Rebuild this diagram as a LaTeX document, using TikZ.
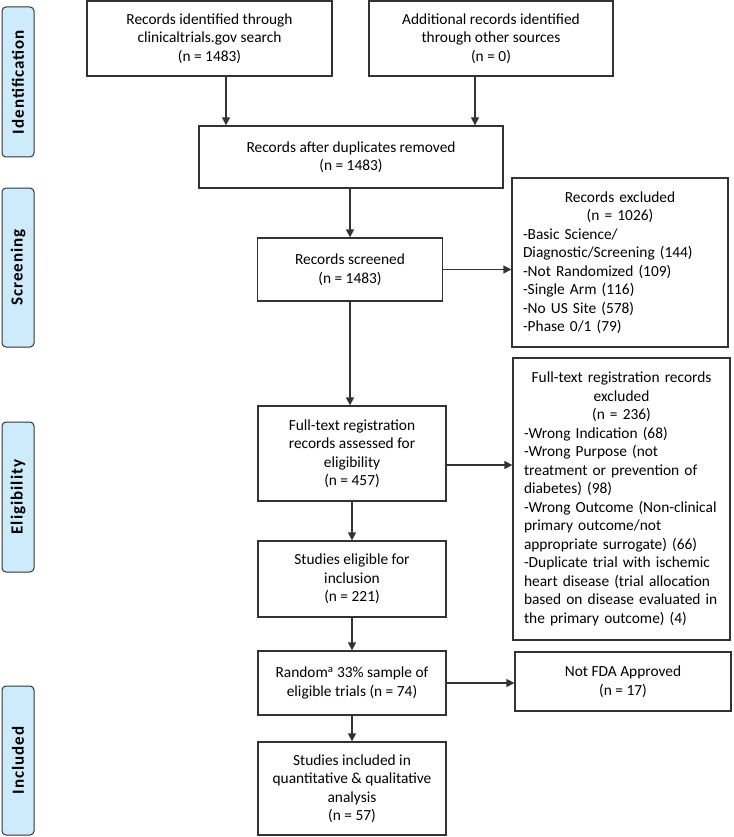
\documentclass[tikz,border=0pt]{standalone}
\usepackage{fontspec}
\setmainfont{Carlito}
\newfontfamily\phasefont[LetterSpace=6]{Carlito}
\usetikzlibrary{arrows.meta,calc}
\definecolor{lineC}{HTML}{333333}
\definecolor{phaseC}{HTML}{CDEBFA}
\begin{document}
\begin{tikzpicture}[x=1pt,y=-1pt,
  txt/.style={font=\fontsize{15.4pt}{18.5pt}\selectfont},
  box/.style={draw=lineC, line width=1.3pt, rectangle, inner sep=0pt, align=center, txt},
  phase/.style={draw=lineC, line width=1pt, fill=phaseC, rounded corners=4pt, rotate=90,
    minimum height=32pt, inner sep=0pt, font=\phasefont\fontsize{17pt}{19pt}\selectfont\bfseries},
  arr/.style={draw=lineC, line width=1.3pt, -{Triangle[length=8pt,width=8pt]}}]
\useasboundingbox (0,0) rectangle (733,837);

% phase labels
\node[phase, minimum width=150pt] (pI) at (18,82) {Identification};
\node[phase, minimum width=159pt] (pS) at (18,267.5) {Screening};
\node[phase, minimum width=150pt] (pE) at (18,497) {Eligibility};
\node[phase, minimum width=149pt] (pN) at (18,760.5) {Included};

% boxes
\node[box, minimum width=245pt, minimum height=75pt] (b1) at (209.5,38.5)
  {Records identified through\\clinicaltrials.gov search\\(n = 1483)};
\node[box, minimum width=244pt, minimum height=75pt] (b2) at (491,38.5)
  {Additional records identified\\through other sources\\(n = 0)};
\node[box, minimum width=304pt, minimum height=62pt] (b3) at (351,157)
  {Records after duplicates removed\\(n = 1483)};
\node[box, minimum width=185pt, minimum height=63pt] (b4) at (350,269.5)
  {Records screened\\(n = 1483)};
\node[box, minimum width=216pt, minimum height=169pt, text width=194pt, inner xsep=11pt] (ex1) at (620,262.5)
  {\centering Records excluded\\(n = 1026)\par\raggedright
   -Basic Science/\\Diagnostic/Screening (144)\\-Not Randomized (109)\\-Single Arm (116)\\-No US Site (578)\\-Phase 0/1 (79)\par};
\node[box, minimum width=188pt, minimum height=95pt] (b5) at (352,453.5)
  {Full-text registration\\records assessed for\\eligibility\\(n = 457)};
\node[box, minimum width=217pt, minimum height=282pt, text width=195pt, inner xsep=11pt] (ex2) at (621.5,499)
  {\centering Full-text registration records\\excluded\\(n = 236)\par\raggedright
   -Wrong Indication (68)\\-Wrong Purpose (not\\treatment or prevention of\\diabetes) (98)\\-Wrong Outcome (Non-clinical\\primary outcome/not\\appropriate surrogate) (66)\\-Duplicate trial with ischemic\\heart disease (trial allocation\\based on disease evaluated in\\the primary outcome) (4)\par};
\node[box, minimum width=188pt, minimum height=76pt] (b6) at (352,579)
  {Studies eligible for\\inclusion\\(n = 221)};
\node[box, minimum width=188pt, minimum height=64pt] (rnd) at (352,683)
  {Random\textsuperscript{a} 33\% sample of\\eligible trials (n = 74)};
\node[box, minimum width=216pt, minimum height=59pt] (fda) at (623,681.5)
  {Not FDA Approved\\(n = 17)};
\node[box, minimum width=188pt, minimum height=93pt] (inc) at (352,788.5)
  {Studies included in\\quantitative \& qualitative\\analysis\\(n = 57)};

% connectors
\draw[arr] ([xshift=16.5pt]b1.south) -- ([xshift=16.5pt]b1.south |- b3.north);
\draw[arr] ([xshift=-16pt]b2.south) -- ([xshift=-16pt]b2.south |- b3.north);
\draw[arr] (b4.north |- b3.south) -- (b4.north);
\draw[arr] (b4.east) -- (b4.east -| ex1.west);
\draw[arr] (b4.south) -- (b4.south |- b5.north);
\coordinate (a5) at ($(b5.east)+(0,11.5)$);
\draw[arr] (a5) -- (a5 -| ex2.west);
\draw[arr] (b5.south) -- (b6.north);
\draw[arr] (b6.south) -- (rnd.north);
\draw[arr] (rnd.east) -- (rnd.east -| fda.west);
\draw[arr] (rnd.south) -- (inc.north);
\end{tikzpicture}
\end{document}
